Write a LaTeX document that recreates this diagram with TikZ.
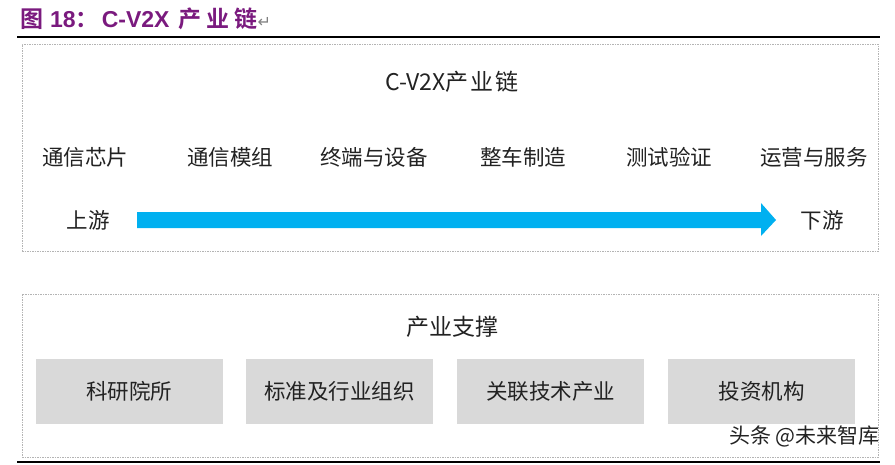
\documentclass[tikz,border=0pt]{standalone}
\usepackage{fontspec}
\setmainfont{Noto Sans CJK SC}
\newfontfamily\cjk{Noto Sans CJK SC}
\newfontfamily\cjkb{Noto Sans CJK SC Bold}
\newfontfamily\latb{Liberation Sans}
\newfontfamily\dejavu{DejaVu Sans}
\definecolor{titlepurple}{HTML}{7A1A7E}
\definecolor{arrowblue}{HTML}{00B0F0}
\definecolor{boxgrey}{HTML}{D9D9D9}
\definecolor{dashgrey}{HTML}{B4B4B4}
\definecolor{textdark}{HTML}{222222}
\begin{document}
\begin{tikzpicture}[x=1pt,y=-1pt,
  txt/.style={inner sep=0pt, font=\cjk\fontsize{21.5}{24}\selectfont, text=textdark},
  headtxt/.style={inner sep=0pt, font=\cjk\fontsize{23}{26}\selectfont, text=textdark},
  panel/.style={draw=dashgrey, line width=0.7pt, dash pattern=on 1.5pt off 1pt},
  greybox/.style={fill=boxgrey, minimum width=187pt, minimum height=65pt, inner sep=0pt,
     font=\cjk\fontsize{21.5}{24}\selectfont, text=textdark},
  rule/.style={line width=1.2pt, black}]
\useasboundingbox (0,0) rectangle (895,464);
% title
\node[anchor=base west, inner sep=0pt, text=titlepurple] (title) at (20,27)
  {\cjkb\fontsize{23}{25}\selectfont 图\hspace{7pt}{\latb\bfseries 18}：\hspace{3pt}{\latb\bfseries C-V2X}\hspace{9pt}产\hspace{5pt}业\hspace{5pt}链\textcolor{gray}{\dejavu\fontsize{16}{18}\selectfont ↵}};
\coordinate (r1a) at (17,37); \coordinate (r1b) at (880,37);
\draw[rule] (r1a) -- (r1b);
\coordinate (r2a) at (17,462); \coordinate (r2b) at (880,462);
\draw[rule] (r2a) -- (r2b);
% panels
\node[panel, inner sep=0pt, minimum width=856pt, minimum height=207pt] (top) at (450,147.5) {};
\node[panel, inner sep=0pt, minimum width=856pt, minimum height=163pt] (bot) at (450,375.5) {};
% top panel contents
\node[headtxt] (head1) at (452,82) {C-V2X产\hspace{2pt}业\hspace{2pt}链};
\node[txt] (s1) at (85,157) {通信芯片};
\node[txt] (s2) at (230,157) {通信模组};
\node[txt] (s3) at (374,157) {终端与设备};
\node[txt] (s4) at (523,157) {整车制造};
\node[txt] (s5) at (669,157) {测试验证};
\node[txt] (s6) at (814,157) {运营与服务};
\node[txt] (up) at (88,220) {上游};
\node[txt] (down) at (822,220) {下游};
\fill[arrowblue] (137,212) -- (761,212) -- (761,203) -- (776,220) -- (761,236) -- (761,228) -- (137,228) -- cycle;
% bottom panel contents
\node[headtxt] (head2) at (452,327) {产业支撑};
\node[greybox] (b1) at (129,391) {科研院所};
\node[greybox] (b2) at (339.5,391) {标准及行业组织};
\node[greybox] (b3) at (550.5,391) {关联技术产业};
\node[greybox] (b4) at (761.5,391) {投资机构};
% watermark
\node[anchor=east, inner sep=0pt, text=textdark, font=\cjk\fontsize{21}{24}\selectfont] (wm) at (880,436) {头条 @未来智库};
\end{tikzpicture}
\end{document}
